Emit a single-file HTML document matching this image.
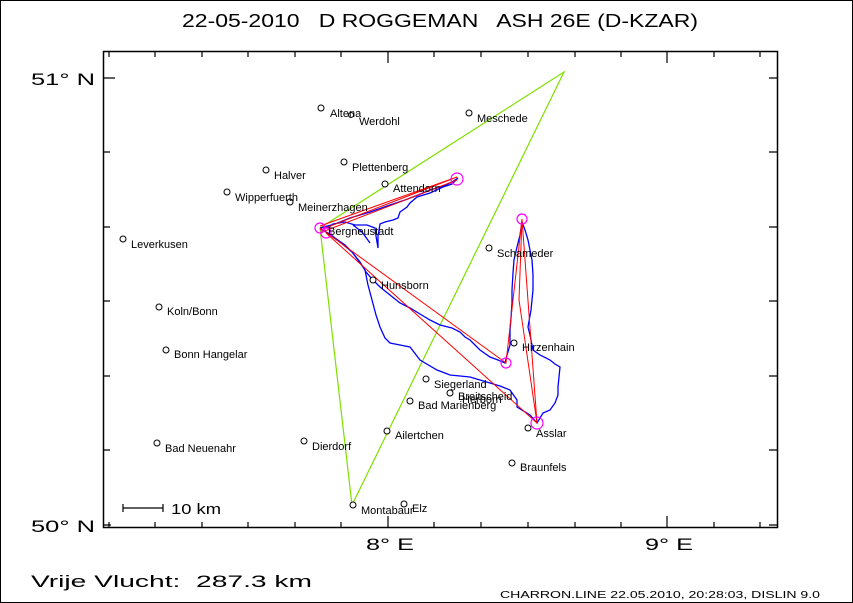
<!DOCTYPE html>
<html><head><meta charset="utf-8"><style>body{margin:0;background:#fff}svg{display:block}</style></head><body>
<svg width="853" height="603" viewBox="0 0 853 603" xmlns="http://www.w3.org/2000/svg" font-family="Liberation Sans, sans-serif">
<rect x="0.5" y="0.5" width="852" height="602" fill="#fff" stroke="#000"/>
<text x="182" y="27" font-size="18" textLength="516" lengthAdjust="spacingAndGlyphs" xml:space="preserve">22-05-2010   D ROGGEMAN   ASH 26E (D-KZAR)</text>
<rect x="103.5" y="51.5" width="674" height="476" fill="none" stroke="#000" stroke-width="1.5"/>
<g stroke="#000" stroke-width="1.2">
<path d="M109 528v-6M155 528v-6M202 528v-6M248 528v-6M295 528v-6M341 528v-6M388 528v-12M434 528v-6M481 528v-6M528 528v-6M575 528v-6M621 528v-6M667 528v-12M714 528v-6M760 528v-6"/>
<path d="M109 51v6M155 51v6M202 51v6M248 51v6M295 51v6M341 51v6M388 51v12M434 51v6M481 51v6M528 51v6M575 51v6M621 51v6M667 51v12M714 51v6M760 51v6"/>
<path d="M103 78h12M103 152h7M103 227h7M103 301h7M103 376h7M103 450h7M103 525h8"/>
<path d="M777 78h-8M777 152h-8M777 227h-8M777 301h-8M777 376h-8M777 450h-8M777 525h-8"/>
<path d="M123 508h40M123 504v8M163 504v8"/>
</g>
<g font-size="17">
<text x="31" y="85" textLength="64" lengthAdjust="spacingAndGlyphs">51° N</text>
<text x="31" y="532" textLength="64" lengthAdjust="spacingAndGlyphs">50° N</text>
<text x="366" y="550" textLength="48" lengthAdjust="spacingAndGlyphs">8° E</text>
<text x="645" y="550" textLength="48" lengthAdjust="spacingAndGlyphs">9° E</text>
<text x="31" y="587" textLength="281" lengthAdjust="spacingAndGlyphs" xml:space="preserve">Vrije Vlucht:  287.3 km</text>
</g>
<text x="171" y="514" font-size="15" textLength="50" lengthAdjust="spacingAndGlyphs">10 km</text>
<text x="500" y="598" font-size="10" textLength="320" lengthAdjust="spacingAndGlyphs">CHARRON.LINE 22.05.2010, 20:28:03, DISLIN 9.0</text>
<polyline points="320,228 564,72 352,505 320,228" fill="none" stroke="#7fe000" stroke-width="1.2"/>
<g fill="none" stroke="#0000ff" stroke-width="1.3">
<polyline points="320,228 335,224 350,218 370,212 390,205 405,200 418,195 430,190 443,186 452,182 458,178 452,184 443,187 430,193 417,197 410,203 407,207 400,212 398,218 393,220 385,222 380,224 378,236 378,248 376,236 375,228 367,225 355,225 345,222 333,224 328,228"/>
<polyline points="353,225 362,232 370,243"/>
<polyline points="320,228 335,238 345,245 352,252 358,260 365,270 368,285 372,300 376,315 380,327 385,338 390,343 400,345 410,347 420,360 437,370 450,375 460,376 470,377 480,380 490,383 500,386 510,390 517,400 517,407 530,415 537,423 543,413 550,410 555,403 558,395 558,387 560,367 555,364 550,360 540,355 533,350 530,335 528,327 531,310 533,290 533,275 532,260 530,250 528,240 525,230 522,222 520,235 517,247 514,260 513,273 512,290 512,303 511,318 510,330 510,345 507,355 505,363 498,360 490,357 480,350 475,345 470,340 465,337 460,332 452,328 440,325 430,320 420,314 410,308 400,303 390,295 380,287 373,280 366,272 360,262 352,252 340,242 330,234 322,230"/>
</g>
<g fill="none" stroke="#ff0000" stroke-width="1">
<polyline points="320,226 457,177 320,230"/>
<polyline points="322,232 457,180"/>
<polyline points="320,228 506,363 522,219 537,423 326,233"/>
<polyline points="522,219 519,300 537,423"/>
</g>
<g fill="none" stroke="#ff00ff" stroke-width="1.2">
<circle cx="457" cy="179" r="6"/><circle cx="522" cy="219" r="5"/><circle cx="506" cy="363" r="5"/><circle cx="537" cy="423" r="6"/><circle cx="320" cy="228" r="5"/><circle cx="326" cy="233" r="5"/>
</g>
<g fill="#fff" stroke="#000" stroke-width="1">
<circle cx="321" cy="108" r="3"/><circle cx="351" cy="115" r="2.5"/><circle cx="469" cy="113" r="3"/><circle cx="344" cy="162" r="3"/><circle cx="266" cy="170" r="3"/><circle cx="385" cy="184" r="3"/><circle cx="227" cy="192" r="3"/><circle cx="290" cy="202" r="3"/><circle cx="123" cy="239" r="3"/><circle cx="489" cy="248" r="3"/><circle cx="373" cy="280" r="3"/><circle cx="159" cy="307" r="3"/><circle cx="514" cy="343" r="3"/><circle cx="166" cy="350" r="3"/><circle cx="426" cy="379" r="3"/><circle cx="450" cy="393" r="3"/><circle cx="410" cy="401" r="3"/><circle cx="528" cy="428" r="3"/><circle cx="387" cy="431" r="3"/><circle cx="304" cy="441" r="3"/><circle cx="157" cy="443" r="3"/><circle cx="512" cy="463" r="3"/><circle cx="353" cy="505" r="3"/><circle cx="404" cy="504" r="3"/>
</g>
<g font-size="11" fill="#000">
<text x="330" y="117">Altena</text><text x="359" y="125">Werdohl</text><text x="477" y="122">Meschede</text><text x="352" y="171">Plettenberg</text><text x="274" y="179">Halver</text><text x="393" y="192">Attendorn</text><text x="235" y="201">Wipperfuerth</text><text x="298" y="211">Meinerzhagen</text><text x="131" y="248">Leverkusen</text><text x="328" y="235">Bergneustadt</text><text x="497" y="257">Schameder</text><text x="381" y="289">Hunsborn</text><text x="167" y="315">Koln/Bonn</text><text x="522" y="351">Hirzenhain</text><text x="174" y="358">Bonn Hangelar</text><text x="434" y="388">Siegerland</text><text x="458" y="400">Breitscheid</text><text x="462" y="403">Herborn</text><text x="418" y="409">Bad Marienberg</text><text x="536" y="437">Asslar</text><text x="395" y="439">Ailertchen</text><text x="312" y="450">Dierdorf</text><text x="165" y="452">Bad Neuenahr</text><text x="520" y="471">Braunfels</text><text x="361" y="514">Montabaur</text><text x="412" y="512">Elz</text>
</g>
</svg>
</body></html>
